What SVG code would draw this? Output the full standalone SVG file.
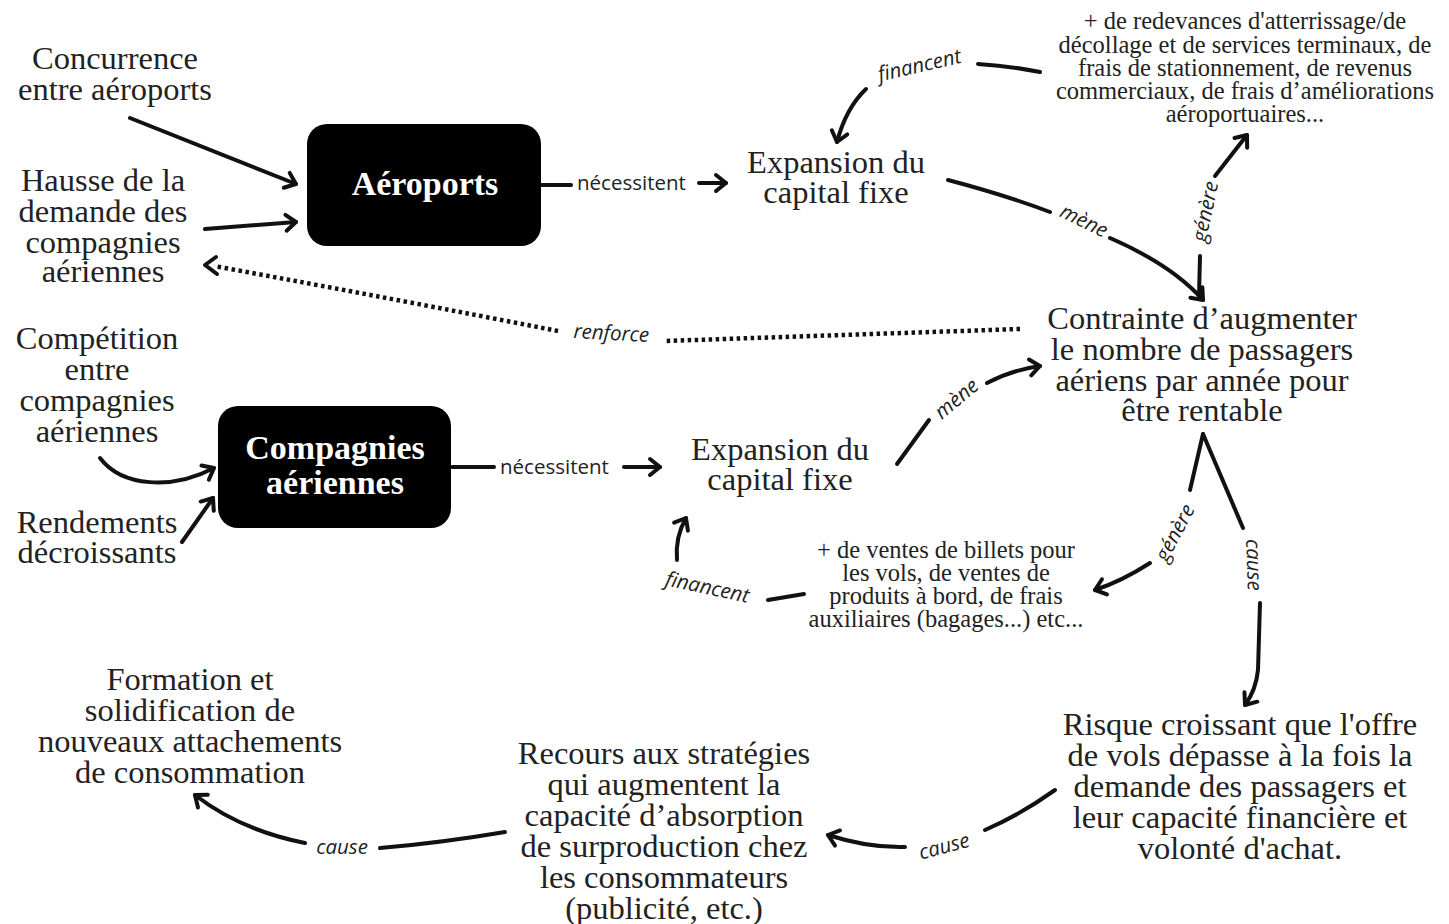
<svg xmlns="http://www.w3.org/2000/svg" width="1449" height="924" viewBox="0 0 1449 924">
  <style>
    .t { font-family: "Liberation Serif", "Times New Roman", serif; font-size: 32.5px; fill: #222; text-anchor: middle; }
    .s { font-family: "Liberation Serif", "Times New Roman", serif; font-size: 24.5px; fill: #222; text-anchor: middle; }
    .b { font-family: "Liberation Serif", "Times New Roman", serif; font-size: 34px; font-weight: bold; fill: #fff; text-anchor: middle; }
    .lbl { font-family: "Open Sans", "Noto Sans", sans-serif; font-size: 20.5px; fill: #222; }
    .it { font-style: italic; text-anchor: middle; }
    .box { fill: #000; }
    .ln { fill: none; stroke: #111; stroke-width: 4; stroke-linecap: round; }
    .arr { marker-end: url(#ah); }
    .dot { fill: none; stroke: #111; stroke-width: 4.5; stroke-dasharray: 3.5 3.5; }
  </style>
  <defs>
    <marker id="ah" viewBox="-14 -12 18 24" markerWidth="18" markerHeight="24" refX="0" refY="0" orient="auto" markerUnits="userSpaceOnUse" overflow="visible">
      <path d="M-10,-8 L0,0 L-10,8" fill="none" stroke="#111" stroke-width="4" stroke-linecap="round" stroke-linejoin="round"/>
    </marker>
  </defs>
  <rect width="1449" height="924" fill="#fff"/>

  <!-- connectors -->
  <g id="connectors">
    <!-- into Aéroports -->
    <path class="ln arr" d="M130,118 L296,184"/>
    <path class="ln arr" d="M205,229 L296,222"/>
    <!-- Aéroports nécessitent -->
    <path class="ln" d="M541,185 L571,185"/>
    <text class="lbl" x="577" y="190">nécessitent</text>
    <path class="ln arr" d="M699,183 L726,183"/>
    <!-- top financent -->
    <path class="ln" d="M978,64 Q1010,66 1040,72"/>
    <text class="lbl it" transform="translate(921,72) rotate(-13)">financent</text>
    <path class="ln arr" d="M866,89 Q846,108 837,142"/>
    <!-- top mène -->
    <path class="ln" d="M948,180 Q1005,195 1050,212"/>
    <text class="lbl it" transform="translate(1081,227) rotate(26)">mène</text>
    <path class="ln arr" d="M1110,238 Q1172,265 1203,300"/>
    <!-- top génère -->
    <path class="ln" d="M1199,296 L1200,256"/>
    <text class="lbl it" transform="translate(1212,213) rotate(-78)">génère</text>
    <path class="ln arr" d="M1215,176 L1247,135"/>
    <!-- renforce (dotted) -->
    <path class="dot" d="M1020,329 L665,341"/>
    <text class="lbl it" transform="translate(611,340) rotate(3)">renforce</text>
    <path class="dot" d="M558,331 Q400,300 214,266"/>
    <path d="M216,257 L205,265 L217,274" fill="none" stroke="#111" stroke-width="4" stroke-linecap="round" stroke-linejoin="round"/>
    <!-- into Compagnies aériennes -->
    <path class="ln arr" d="M100,458 C122,487 172,490 214,468"/>
    <path class="ln arr" d="M182,542 L213,498"/>
    <!-- Compagnies nécessitent -->
    <path class="ln" d="M452,467 L494,467"/>
    <text class="lbl" x="500" y="474">nécessitent</text>
    <path class="ln arr" d="M624,467 L660,467"/>
    <!-- lower mène -->
    <path class="ln" d="M897,464 L929,420"/>
    <text class="lbl it" transform="translate(961,404) rotate(-40)">mène</text>
    <path class="ln arr" d="M987,383 Q1012,370 1040,366"/>
    <!-- lower financent -->
    <path class="ln" d="M768,600 L804,594"/>
    <text class="lbl it" transform="translate(706,594) rotate(12)">financent</text>
    <path class="ln arr" d="M677,560 Q675,537 686,518"/>
    <!-- lower génère -->
    <path class="ln" d="M1203,434 L1190,490"/>
    <text class="lbl it" transform="translate(1181,536) rotate(-62)">génère</text>
    <path class="ln arr" d="M1150,563 Q1122,581 1095,590"/>
    <!-- cause (down) -->
    <path class="ln" d="M1203,434 L1243,528"/>
    <text class="lbl it" transform="translate(1247,565) rotate(88)">cause</text>
    <path class="ln arr" d="M1260,603 L1258,670 Q1256,690 1245,705"/>
    <!-- cause (Risque to Recours) -->
    <path class="ln" d="M1055,790 Q1020,815 985,830"/>
    <text class="lbl it" transform="translate(946,853) rotate(-15)">cause</text>
    <path class="ln arr" d="M905,847 Q868,848 828,835"/>
    <!-- cause (Recours to Formation) -->
    <path class="ln" d="M505,832 Q440,843 380,848"/>
    <text class="lbl it" x="342" y="854">cause</text>
    <path class="ln arr" d="M305,843 Q240,830 195,795"/>
  </g>

  <g id="n-concurrence">
    <text class="t" x="115" y="69">Concurrence</text>
    <text class="t" x="115" y="100">entre aéroports</text>
  </g>
  <g id="n-hausse">
    <text class="t" x="103" y="191">Hausse de la</text>
    <text class="t" x="103" y="222">demande des</text>
    <text class="t" x="103" y="253">compagnies</text>
    <text class="t" x="103" y="282">aériennes</text>
  </g>
  <g id="n-aeroports">
    <rect class="box" x="307" y="124" width="234" height="122" rx="20"/>
    <text class="b" x="425" y="195">Aéroports</text>
  </g>
  <g id="n-expansion-1">
    <text class="t" x="836" y="173">Expansion du</text>
    <text class="t" x="836" y="203">capital fixe</text>
  </g>
  <g id="n-redevances">
    <text class="s" x="1245" y="29">+ de redevances d'atterrissage/de</text>
    <text class="s" x="1245" y="53">décollage et de services terminaux, de</text>
    <text class="s" x="1245" y="76">frais de stationnement, de revenus</text>
    <text class="s" x="1245" y="99">commerciaux, de frais d’améliorations</text>
    <text class="s" x="1245" y="122">aéroportuaires...</text>
  </g>
  <g id="n-contrainte">
    <text class="t" x="1202" y="329">Contrainte d’augmenter</text>
    <text class="t" x="1202" y="360">le nombre de passagers</text>
    <text class="t" x="1202" y="391">aériens par année pour</text>
    <text class="t" x="1202" y="421">être rentable</text>
  </g>
  <g id="n-competition">
    <text class="t" x="97" y="349">Compétition</text>
    <text class="t" x="97" y="380">entre</text>
    <text class="t" x="97" y="411">compagnies</text>
    <text class="t" x="97" y="442">aériennes</text>
  </g>
  <g id="n-compagnies">
    <rect class="box" x="218" y="406" width="233" height="122" rx="20"/>
    <text class="b" x="335" y="459">Compagnies</text>
    <text class="b" x="335" y="494">aériennes</text>
  </g>
  <g id="n-rendements">
    <text class="t" x="97" y="533">Rendements</text>
    <text class="t" x="97" y="563">décroissants</text>
  </g>
  <g id="n-expansion-2">
    <text class="t" x="780" y="460">Expansion du</text>
    <text class="t" x="780" y="490">capital fixe</text>
  </g>
  <g id="n-ventes">
    <text class="s" x="946" y="558">+ de ventes de billets pour</text>
    <text class="s" x="946" y="581">les vols, de ventes de</text>
    <text class="s" x="946" y="604">produits à bord, de frais</text>
    <text class="s" x="946" y="627">auxiliaires (bagages...) etc...</text>
  </g>
  <g id="n-risque">
    <text class="t" x="1240" y="735">Risque croissant que l'offre</text>
    <text class="t" x="1240" y="766">de vols dépasse à la fois la</text>
    <text class="t" x="1240" y="797">demande des passagers et</text>
    <text class="t" x="1240" y="828">leur capacité financière et</text>
    <text class="t" x="1240" y="859">volonté d'achat.</text>
  </g>
  <g id="n-recours">
    <text class="t" x="664" y="764">Recours aux stratégies</text>
    <text class="t" x="664" y="795">qui augmentent la</text>
    <text class="t" x="664" y="826">capacité d’absorption</text>
    <text class="t" x="664" y="857">de surproduction chez</text>
    <text class="t" x="664" y="888">les consommateurs</text>
    <text class="t" x="664" y="919">(publicité, etc.)</text>
  </g>
  <g id="n-formation">
    <text class="t" x="190" y="690">Formation et</text>
    <text class="t" x="190" y="721">solidification de</text>
    <text class="t" x="190" y="752">nouveaux attachements</text>
    <text class="t" x="190" y="783">de consommation</text>
  </g>
</svg>
